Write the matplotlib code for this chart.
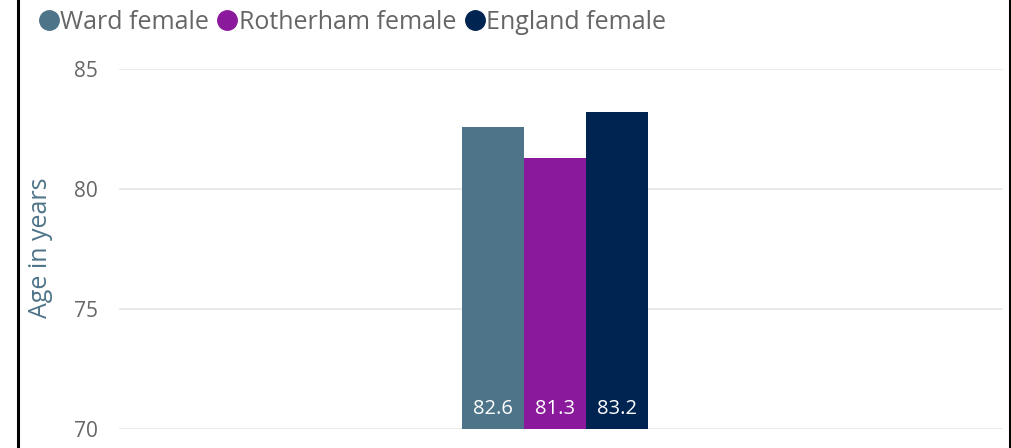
import matplotlib
matplotlib.use("Agg")
import matplotlib.pyplot as plt
from matplotlib.lines import Line2D

series = ["Ward female", "Rotherham female", "England female"]
values = [82.6, 81.3, 83.2]
colors = ["#4E7489", "#8A1A9B", "#002451"]
yticks = [70, 75, 80, 85]

plt.rcParams["font.family"] = ["Open Sans", "DejaVu Sans"]

W, H = 1011, 448
fig = plt.figure(figsize=(W / 100, H / 100), dpi=100)
ax = fig.add_axes([119 / W, 1 - 429 / H, (1003 - 119) / W, (429 - 69) / H])

bw = 62
center = 555 - 119
xs = [center - bw, center, center + bw]
ax.bar(xs, [v - 70 for v in values], bottom=70, width=bw, color=colors, zorder=3)
for x, v in zip(xs, values):
    ax.text(x, 70.85, f"{v:.1f}", color="white", ha="center", va="center",
            fontsize=14.5, zorder=4)

ax.set_xlim(0, 1003 - 119)
ax.set_ylim(70, 85)
ax.set_yticks(yticks)
ax.set_xticks([])
ax.grid(axis="y", color="#E6E6E6", linewidth=1.2, zorder=0)
for s in ax.spines.values():
    s.set_visible(False)
ax.tick_params(axis="y", length=0, pad=15, labelsize=15, labelcolor="#666666")
ax.set_ylabel("Age in years", fontsize=18, color="#4E7489")
ax.yaxis.set_label_coords((53 - 119) / (1003 - 119), (429 - 248) / 360)

handles = [Line2D([], [], marker="o", linestyle="", markersize=14, color=c) for c in colors]
fig.legend(handles, series, loc="upper left", bbox_to_anchor=(16 / W, 1.028),
           ncol=3, frameon=False, fontsize=18, labelcolor="#666666",
           handletextpad=0.05, columnspacing=0.35, handlelength=0.8)

# outer border lines left and right
fig.add_artist(Line2D([18 / W, 18 / W], [0, 1], color="black", linewidth=2.2))
fig.add_artist(Line2D([1010 / W, 1010 / W], [0, 1], color="black", linewidth=2.2))

fig.savefig("out.png", dpi=100)
